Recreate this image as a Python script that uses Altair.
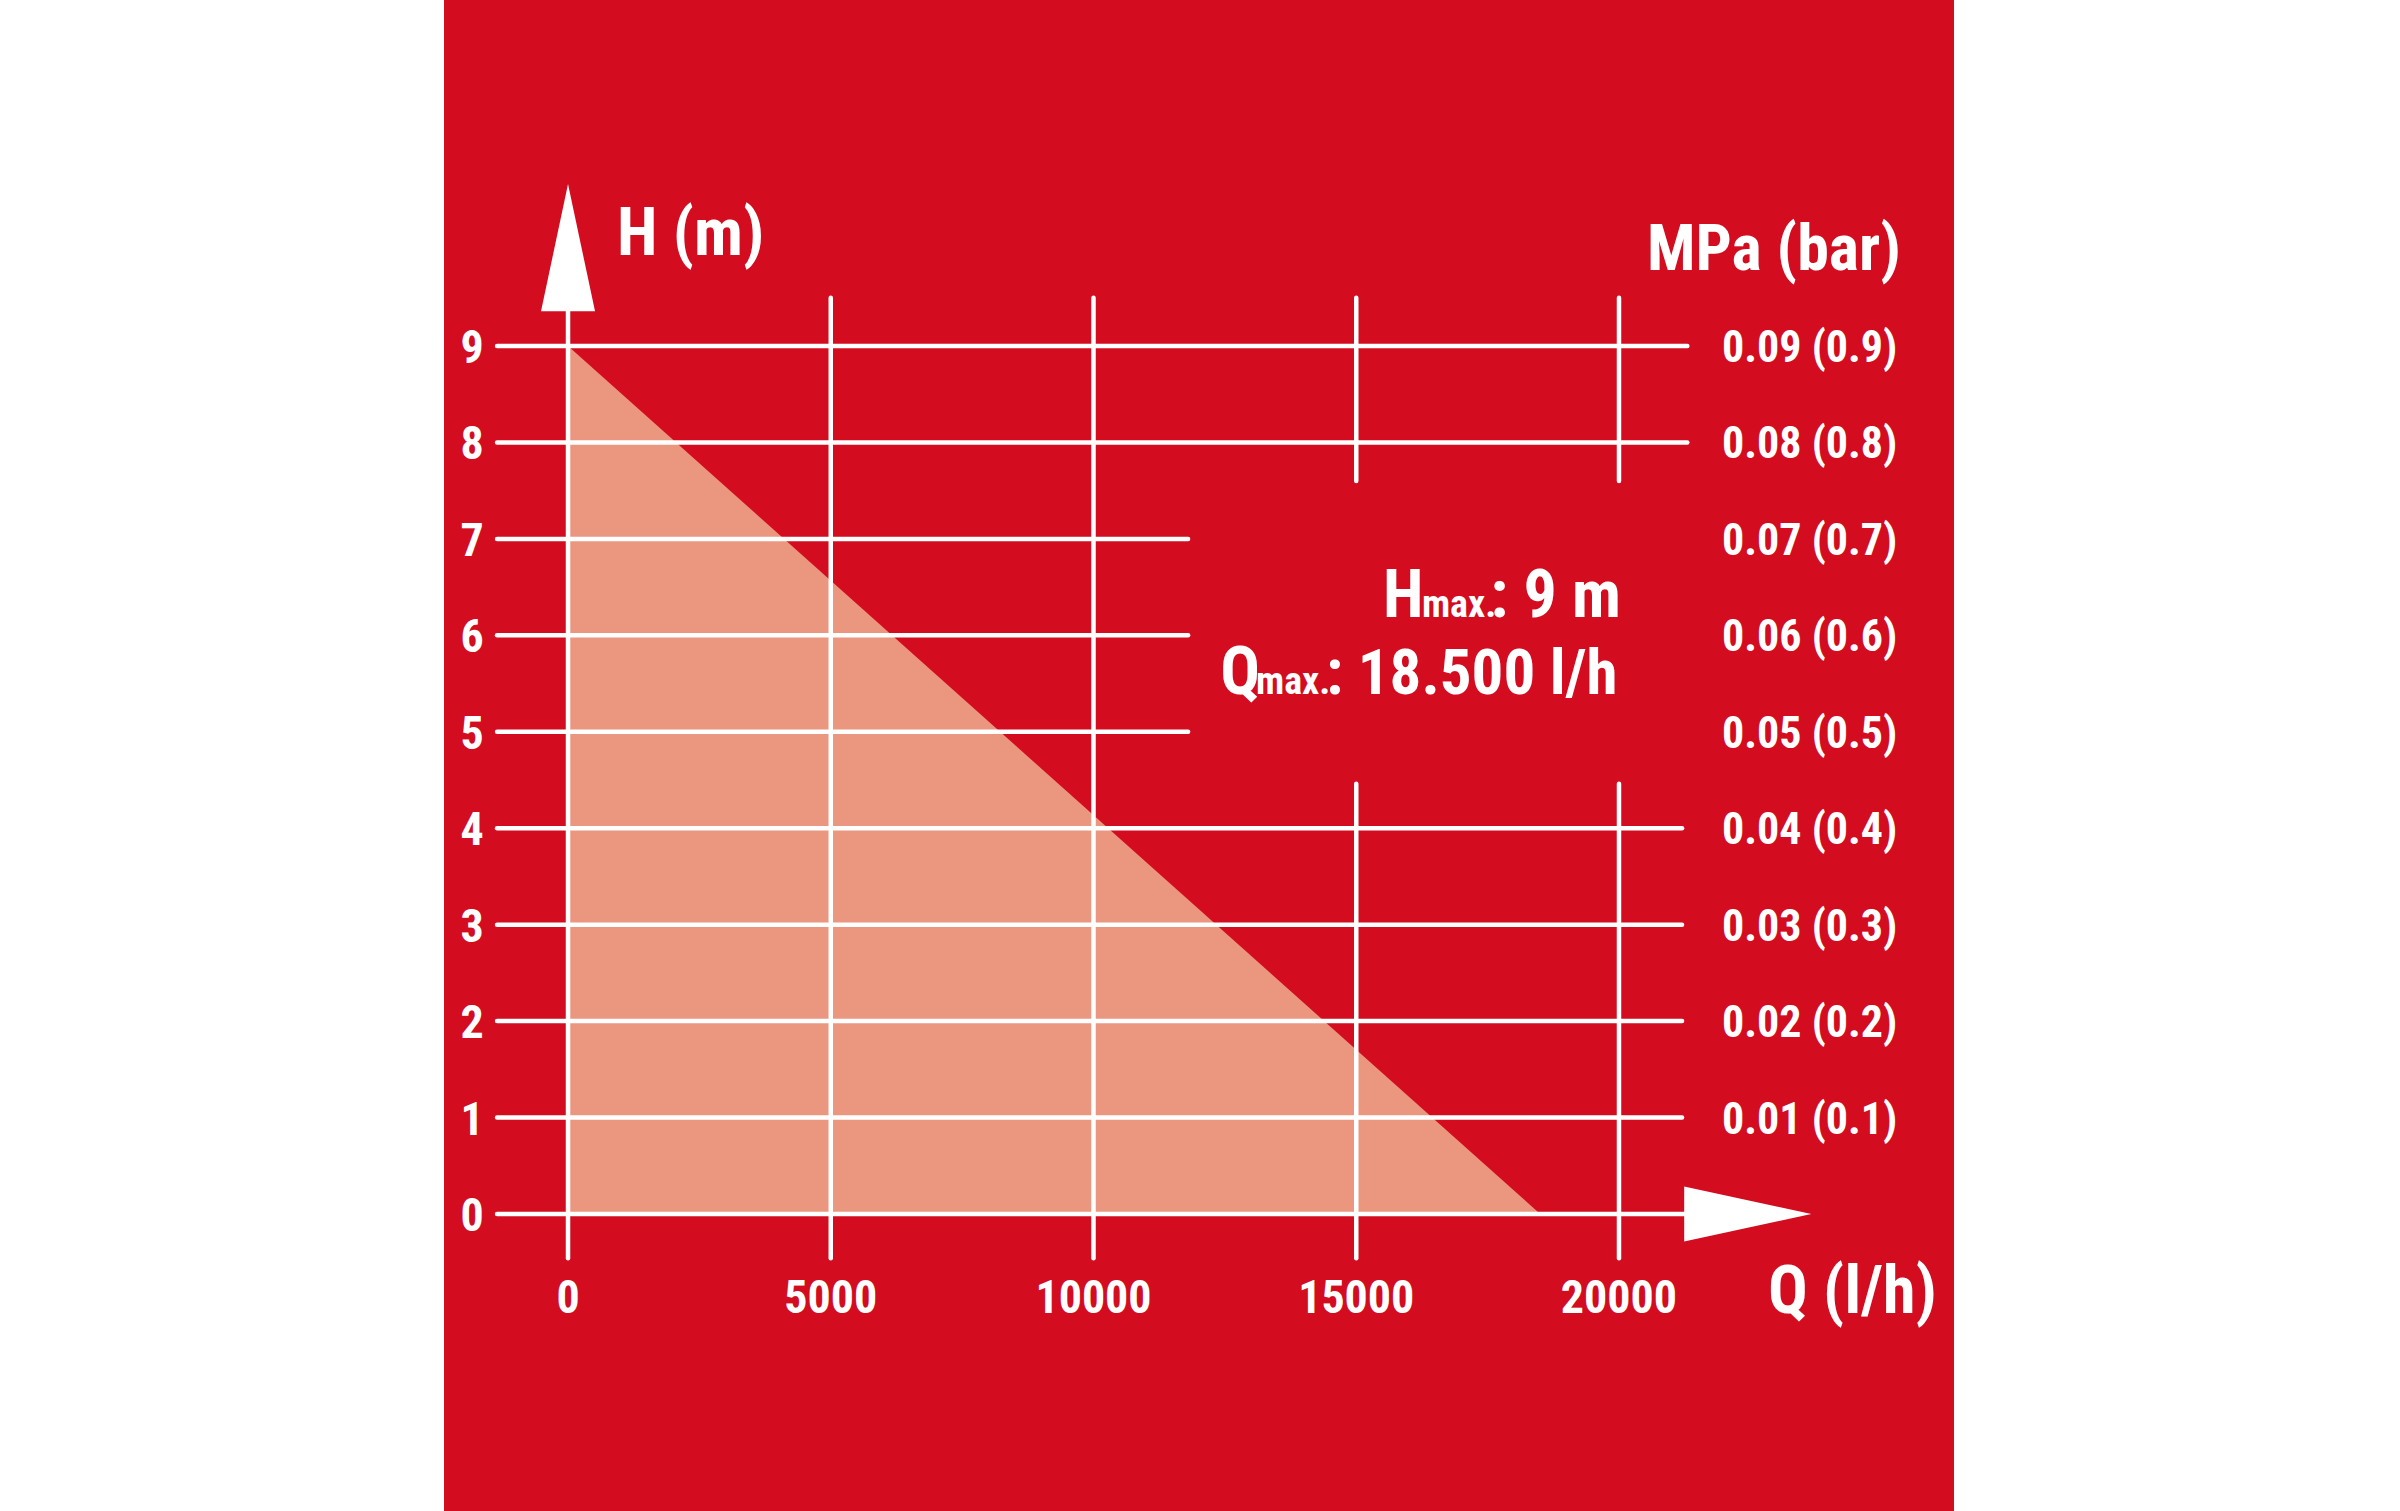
import altair as alt
import pandas as pd

# ---------------- data ----------------
q_ticks = [0, 5000, 10000, 15000, 20000]
q_tick_labels = ["0", "5000", "10000", "15000", "20000"]
h_ticks = [0, 1, 2, 3, 4, 5, 6, 7, 8, 9]
h_tick_labels = ["0", "1", "2", "3", "4", "5", "6", "7", "8", "9"]
p_ticks = [1, 2, 3, 4, 5, 6, 7, 8, 9]
p_tick_labels = ["0.01 (0.1)", "0.02 (0.2)", "0.03 (0.3)", "0.04 (0.4)", "0.05 (0.5)",
                 "0.06 (0.6)", "0.07 (0.7)", "0.08 (0.8)", "0.09 (0.9)"]

curve_q = [0, 18500]
curve_h = [9, 0]

# horizontal grid lines (H value, start Q, end Q)
hgrid_h = [9, 8, 7, 6, 5, 4, 3, 2, 1, 0]
hgrid_q0 = [-1350] * 10
hgrid_q1 = [21300, 21300, 11800, 11800, 11800, 21200, 21200, 21200, 21200, 21250]

# vertical grid lines (Q value, start H, end H)
vgrid_q = [0, 5000, 10000, 15000, 15000, 20000, 20000]
vgrid_h0 = [-0.46, -0.46, -0.46, -0.46, 7.6, -0.46, 7.6]
vgrid_h1 = [9.4, 9.5, 9.5, 4.46, 9.5, 4.46, 9.5]

# axis arrow heads
yarrow_h = [9.36, 10.68]
yarrow_ql = [-514, 0]
yarrow_qr = [514, 0]
xarrow_q = [21240, 23660]
xarrow_hl = [-0.285, 0]
xarrow_hh = [0.285, 0]

RED = "#D30C1F"
SALMON = "#EB9780"
FONT = "Liberation Sans Narrow, Roboto Condensed, DejaVu Sans Condensed, sans-serif"

xs = alt.Scale(domain=[-2360, 26375], nice=False, zero=False)
ys = alt.Scale(domain=[-3.08, 12.588], nice=False, zero=False)

def X(f):
    return alt.X(f, type="quantitative", scale=xs, axis=None)

def Y(f):
    return alt.Y(f, type="quantitative", scale=ys, axis=None)

# ---------------- layers ----------------
curve_df = pd.DataFrame({"q": curve_q, "h": curve_h, "base": [0, 0]})
fill = alt.Chart(curve_df).mark_area(color=SALMON, opacity=1).encode(
    x=X("q"), y=Y("h"), y2="base")

hg_df = pd.DataFrame({"h": hgrid_h, "q0": hgrid_q0, "q1": hgrid_q1})
hgrid = alt.Chart(hg_df).mark_rule(color="white", strokeWidth=4.5, strokeCap="round").encode(
    x=X("q0"), x2="q1", y=Y("h"))

vg_df = pd.DataFrame({"q": vgrid_q, "h0": vgrid_h0, "h1": vgrid_h1})
vgrid = alt.Chart(vg_df).mark_rule(color="white", strokeWidth=4.5, strokeCap="round").encode(
    x=X("q"), y=Y("h0"), y2="h1")

ya_df = pd.DataFrame({"h": yarrow_h, "ql": yarrow_ql, "qr": yarrow_qr})
yarrow = alt.Chart(ya_df).mark_area(color="white", orient="horizontal", opacity=1).encode(
    y=Y("h"), x=X("ql"), x2="qr")

xa_df = pd.DataFrame({"q": xarrow_q, "hl": xarrow_hl, "hh": xarrow_hh})
xarrow = alt.Chart(xa_df).mark_area(color="white", orient="vertical", opacity=1).encode(
    x=X("q"), y=Y("hl"), y2="hh")

# tick labels
xl_df = pd.DataFrame({"q": q_ticks, "t": q_tick_labels, "h": [-1.03] * len(q_ticks)})
xlabels = alt.Chart(xl_df).mark_text(color="white", font=FONT, fontWeight="bold", fontSize=46,
                                     align="center", baseline="alphabetic").encode(
    x=X("q"), y=Y("h"), text="t:N")

yl_df = pd.DataFrame({"h": h_ticks, "t": h_tick_labels, "q": [-1827] * len(h_ticks)})
ylabels = alt.Chart(yl_df).mark_text(color="white", font=FONT, fontWeight="bold", fontSize=46,
                                     align="center", baseline="alphabetic", dy=17).encode(
    x=X("q"), y=Y("h"), text="t:N")

pl_df = pd.DataFrame({"h": p_ticks, "t": p_tick_labels, "q": [21960] * len(p_ticks)})
plabels = alt.Chart(pl_df).mark_text(color="white", font=FONT, fontWeight="bold", fontSize=44,
                                     align="left", baseline="alphabetic", dy=16).encode(
    x=X("q"), y=Y("h"), text="t:N")

# axis titles
titles_df = pd.DataFrame({
    "t": ["H (m)", "Q (l/h)"],
    "q": [932, 22836],
    "h": [9.944, -1.027],
})
titles = alt.Chart(titles_df).mark_text(color="white", font=FONT, fontWeight="bold", fontSize=66,
                                        align="left", baseline="alphabetic").encode(
    x=X("q"), y=Y("h"), text="t:N")
ptitle_df = pd.DataFrame({"t": ["MPa (bar)"], "q": [20533], "h": [9.79]})
ptitle = alt.Chart(ptitle_df).mark_text(color="white", font=FONT, fontWeight="bold", fontSize=64,
                                        align="left", baseline="alphabetic").encode(
    x=X("q"), y=Y("h"), text="t:N")

# Hmax / Qmax annotation
big_df = pd.DataFrame({
    "t": ["H", ": 9 m", "Q"],
    "q": [15510, 17550, 12410],
    "h": [6.188, 6.188, 5.39],
})
big = alt.Chart(big_df).mark_text(color="white", font=FONT, fontWeight="bold", fontSize=66,
                                  align="left", baseline="alphabetic").encode(
    x=X("q"), y=Y("h"), text="t:N")
big2_df = pd.DataFrame({"t": [": 18.500 l/h"], "q": [14424], "h": [5.39]})
big2 = alt.Chart(big2_df).mark_text(color="white", font=FONT, fontWeight="bold", fontSize=63,
                                    align="left", baseline="alphabetic").encode(
    x=X("q"), y=Y("h"), text="t:N")
sub_df = pd.DataFrame({
    "t": ["max.", "max."],
    "q": [16250, 13092],
    "h": [6.188, 5.39],
})
sub = alt.Chart(sub_df).mark_text(color="white", font=FONT, fontWeight="bold", fontSize=38,
                                  align="left", baseline="alphabetic").encode(
    x=X("q"), y=Y("h"), text="t:N")

chart = alt.layer(fill, hgrid, vgrid, yarrow, xarrow, xlabels, ylabels, plabels,
                  titles, ptitle, big, big2, sub).properties(
    width=1510, height=1511,
    autosize=alt.AutoSizeParams(type="none"),
    padding={"left": 444, "right": 446, "top": 0, "bottom": 0},
    background="white",
).configure_view(fill=RED, stroke=None)

chart.save("out.html", embed_options={"renderer": "svg", "actions": False})
